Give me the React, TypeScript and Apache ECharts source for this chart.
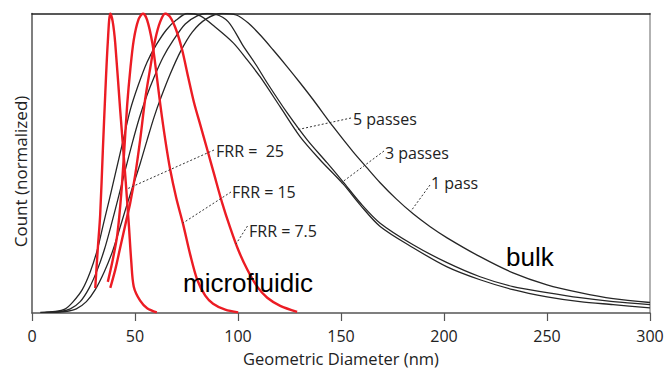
import React, { useEffect, useRef } from "react";
import * as echarts from "echarts";

// x: geometric diameter (nm), y: normalized count
const bulk5Passes: number[][] = [
  [4.0, 0.002], [11.3, 0.005], [16.2, 0.014], [20.0, 0.038], [24.4, 0.078], [28.3, 0.138],
  [31.7, 0.211], [34.6, 0.295], [37.5, 0.378], [40.9, 0.478], [44.3, 0.578], [47.7, 0.678],
  [51.6, 0.761], [55.9, 0.838], [60.3, 0.895], [65.2, 0.945], [70.0, 0.978], [75.4, 1.0],
  [81.7, 0.992], [88.9, 0.955], [97.7, 0.902], [104.5, 0.845], [110.8, 0.788], [120.5, 0.688],
  [130.2, 0.588], [139.9, 0.511], [151.0, 0.431], [159.3, 0.361], [169.0, 0.289], [185.0, 0.218],
  [201.5, 0.154], [217.5, 0.111], [233.5, 0.078], [250.0, 0.054], [266.0, 0.038], [282.1, 0.028],
  [300.0, 0.017],
];
const bulk3Passes: number[][] = [
  [6.5, 0.002], [13.7, 0.005], [18.6, 0.014], [23.4, 0.038], [27.8, 0.084], [31.7, 0.144],
  [35.1, 0.211], [38.5, 0.295], [41.9, 0.385], [45.3, 0.478], [48.7, 0.568], [52.1, 0.651],
  [55.5, 0.721], [59.3, 0.788], [63.7, 0.855], [68.6, 0.911], [74.4, 0.965], [80.2, 0.992],
  [85.1, 1.0], [88.9, 0.998], [95.3, 0.972], [102.5, 0.892], [108.8, 0.828], [114.2, 0.768],
  [123.9, 0.668], [133.6, 0.578], [143.3, 0.501], [151.0, 0.438], [159.3, 0.368], [169.0, 0.3],
  [185.0, 0.228], [201.5, 0.168], [217.5, 0.121], [233.5, 0.088], [250.0, 0.068], [266.0, 0.051],
  [282.1, 0.038], [300.0, 0.028],
];
const bulk1Pass: number[][] = [
  [8.9, 0.002], [16.2, 0.005], [21.5, 0.014], [26.4, 0.038], [30.7, 0.078], [35.1, 0.138],
  [39.0, 0.204], [42.4, 0.278], [45.8, 0.355], [49.2, 0.428], [52.6, 0.501], [55.9, 0.578],
  [59.3, 0.655], [62.7, 0.721], [67.1, 0.798], [72.0, 0.872], [77.8, 0.938], [84.6, 0.982],
  [92.3, 1.0], [99.1, 0.995], [105.0, 0.968], [110.8, 0.928], [117.1, 0.878], [123.9, 0.822],
  [130.2, 0.768], [136.5, 0.712], [146.2, 0.622], [155.9, 0.538], [162.2, 0.488], [169.0, 0.435],
  [176.8, 0.381], [185.0, 0.331], [193.3, 0.288], [201.5, 0.251], [217.5, 0.188], [233.5, 0.134],
  [250.0, 0.094], [266.0, 0.068], [282.1, 0.048], [300.0, 0.035],
];
const frr25: number[][] = [
  [30.7, 0.083], [31.9, 0.211], [33.1, 0.328], [34.4, 0.545], [35.6, 0.738], [36.8, 0.905],
  [38.0, 1.0], [39.2, 0.972], [40.4, 0.901], [42.8, 0.678], [45.3, 0.456], [47.0, 0.295],
  [48.2, 0.171], [49.4, 0.088], [52.5, 0.041], [55.9, 0.016], [60.6, 0.002],
];
const frr15: number[][] = [
  [36.8, 0.104], [39.0, 0.171], [41.4, 0.261], [43.3, 0.395], [44.8, 0.545], [46.2, 0.695],
  [47.7, 0.812], [49.4, 0.912], [51.6, 0.978], [53.9, 1.0], [55.9, 0.978], [58.4, 0.902],
  [60.3, 0.805], [62.3, 0.695], [64.7, 0.578], [67.1, 0.478], [70.0, 0.385], [73.4, 0.295],
  [76.8, 0.195], [80.2, 0.111], [84.1, 0.058], [87.9, 0.031], [93.8, 0.011], [100.1, 0.002],
];
const frr7_5: number[][] = [
  [38.0, 0.084], [40.4, 0.144], [42.8, 0.218], [45.3, 0.295], [47.7, 0.368], [50.1, 0.461],
  [52.5, 0.578], [54.9, 0.712], [57.4, 0.818], [59.8, 0.912], [62.2, 0.972], [64.7, 1.0],
  [67.1, 0.988], [70.0, 0.945], [72.9, 0.878], [75.8, 0.788], [78.7, 0.701], [81.7, 0.628],
  [85.1, 0.545], [88.5, 0.461], [92.3, 0.368], [96.2, 0.285], [100.1, 0.211], [104.5, 0.145],
  [109.3, 0.088], [114.2, 0.051], [120.5, 0.024], [128.7, 0.004],
];

const xTicks = [0, 50, 100, 150, 200, 250, 300];
const seriesNames = ["5 passes", "3 passes", "1 pass", "FRR =  25", "FRR = 15", "FRR = 7.5"];

const FONT = "'Open Sans', sans-serif";
const BLACK = "#262626";
const RED = "#ec1c24";

export default function App() {
  const ref = useRef<HTMLDivElement>(null);
  useEffect(() => {
    if (!ref.current) return;
    const chart = echarts.init(ref.current, null, { renderer: "svg" });

    const blackLine = (name: string, data: number[][]) => ({
      name, type: "line", data, smooth: 0.3, showSymbol: false,
      lineStyle: { color: BLACK, width: 1.3 }, silent: true, z: 2,
    });
    const redLine = (name: string, data: number[][]) => ({
      name, type: "line", data, smooth: 0.3, showSymbol: false,
      lineStyle: { color: RED, width: 2.4 }, silent: true, z: 3,
    });

    const labels = [
      { text: seriesNames[0], x: 353, y: 119, lx1: 351, ly1: 118, lx2: 296, ly2: 130 },
      { text: seriesNames[1], x: 385, y: 152.5, lx1: 384, ly1: 151, lx2: 341, ly2: 183 },
      { text: seriesNames[2], x: 431, y: 183, lx1: 430, ly1: 185, lx2: 411, ly2: 211 },
      { text: seriesNames[3], x: 216, y: 151, lx1: 214, ly1: 150, lx2: 128, ly2: 188.5 },
      { text: seriesNames[4], x: 232, y: 192, lx1: 231, ly1: 192, lx2: 183, ly2: 223 },
      { text: seriesNames[5], x: 249, y: 231, lx1: 247.5, ly1: 226, lx2: 236, ly2: 244 },
    ];

    const graphic: any[] = [];
    labels.forEach((l) => {
      graphic.push({
        type: "line", silent: true, z: 10,
        shape: { x1: l.lx1, y1: l.ly1, x2: l.lx2, y2: l.ly2 },
        style: { stroke: "#333", lineWidth: 1, lineDash: [2, 2] },
      });
      graphic.push({
        type: "text", x: l.x, y: l.y, z: 10,
        style: { text: l.text, fill: "#222", font: `16px ${FONT}`, align: "left", verticalAlign: "middle" },
      });
    });
    graphic.push({
      type: "text", x: 183, y: 282.5, z: 10,
      style: { text: "microfluidic", fill: "#000", font: "26px 'Liberation Sans', Arial, sans-serif", align: "left", verticalAlign: "middle" },
    });
    graphic.push({
      type: "text", x: 506, y: 257, z: 10,
      style: { text: "bulk", fill: "#000", font: "26px 'Liberation Sans', Arial, sans-serif", align: "left", verticalAlign: "middle" },
    });
    graphic.push({
      type: "text", x: 20, y: 171.5, rotation: Math.PI / 2, z: 10,
      style: { text: "Count (normalized)", fill: "#222", font: `17px ${FONT}`, align: "center", verticalAlign: "middle" },
    });

    chart.setOption({
      animation: false,
      backgroundColor: "#fff",
      grid: { left: 32, right: 17, top: 13.5, bottom: 58, outerBoundsMode: "none", containLabel: false },
      xAxis: [
        {
          type: "value", min: xTicks[0], max: xTicks[xTicks.length - 1], interval: 50,
          name: "Geometric Diameter (nm)", nameLocation: "middle", nameGap: 37,
          nameTextStyle: { fontFamily: FONT, fontSize: 16.5, color: "#222" },
          axisLine: { show: true, lineStyle: { color: "#555", width: 1.5 } },
          axisTick: { show: true, length: 8, lineStyle: { color: "#555", width: 1.2 } },
          axisLabel: { fontFamily: FONT, fontSize: 16, color: "#222", margin: 15 },
          splitLine: { show: false },
        },
        {
          type: "value", position: "top", min: 0, max: 300,
          axisLine: { show: true, onZero: false, lineStyle: { color: "#222", width: 1.5 } },
          axisTick: { show: false }, axisLabel: { show: false }, splitLine: { show: false },
        },
      ],
      yAxis: [
        {
          type: "value", min: 0, max: 1,
          axisLine: { show: true, lineStyle: { color: "#555", width: 1.5 } },
          axisTick: { show: false }, axisLabel: { show: false }, splitLine: { show: false },
        },
        {
          type: "value", position: "right", min: 0, max: 1,
          axisLine: { show: true, onZero: false, lineStyle: { color: "#999", width: 1.5 } },
          axisTick: { show: false }, axisLabel: { show: false }, splitLine: { show: false },
        },
      ],
      series: [
        blackLine(seriesNames[0], bulk5Passes),
        blackLine(seriesNames[1], bulk3Passes),
        blackLine(seriesNames[2], bulk1Pass),
        redLine(seriesNames[3], frr25),
        redLine(seriesNames[4], frr15),
        redLine(seriesNames[5], frr7_5),
      ],
      graphic,
    });
    return () => chart.dispose();
  }, []);
  return <div ref={ref} style={{ width: 667, height: 371, position: "absolute", left: 0, top: 0 }} />;
}
